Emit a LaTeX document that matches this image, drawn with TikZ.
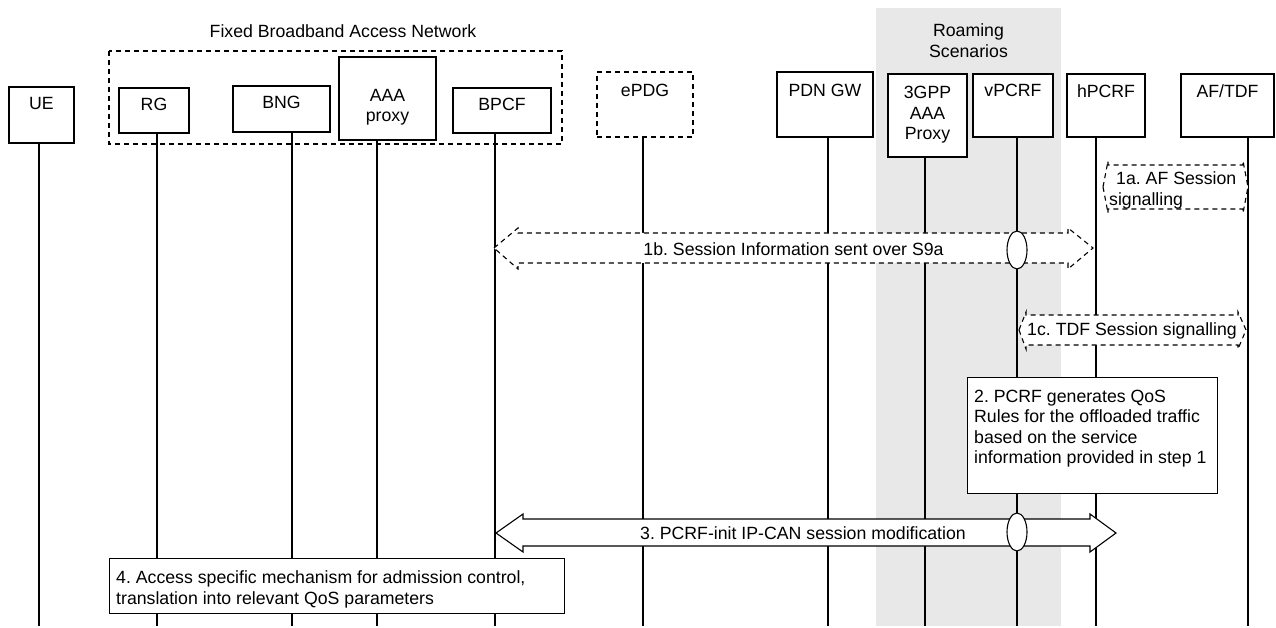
\documentclass[tikz,border=0pt]{standalone}
\usepackage{fontspec}
\setmainfont{Liberation Sans}
\frenchspacing
\usetikzlibrary{shapes.geometric}
\definecolor{roamgray}{RGB}{232,232,232}
\tikzset{
every node/.style={inner sep=0pt, font=\fontsize{17.7}{20.5}\selectfont},
headlbl/.style={anchor=north, align=center, yshift=-11pt},
head/.style={rectangle, draw, fill=white, line width=1.2pt},
dashhead/.style={head, dash pattern=on 5pt off 4pt},
life/.style={line width=1.1pt},
blk/.style={draw, fill=white, line width=1.1pt, line join=miter},
dashblk/.style={blk, dash pattern=on 5pt off 4pt},
cross/.style={ellipse, draw, fill=white, line width=1.1pt, minimum width=20pt, minimum height=38pt},
stepbox/.style={rectangle, draw, fill=white, line width=1.1pt, anchor=north west},
steptxt/.style={anchor=north west, align=left}
}

\begin{document}
\begin{tikzpicture}[x=1pt, y=-1pt]
\useasboundingbox (0,0) rectangle (1276,628);
\fill[roamgray] (876,8) rectangle (1061,626);
\draw[line width=1.1pt, dash pattern=on 5pt off 4pt] (109,51) rectangle (562,144);

\node[anchor=base] (fban) at (343,37.3) {Fixed Broadband Access Network};
\node[align=center] (roam) at (968.5,40.5) {Roaming\\Scenarios};

\node[head, minimum width=65pt, minimum height=56pt, label={[headlbl]north:UE}] (ue) at (41.5,115) {};
\node[head, minimum width=70pt, minimum height=45pt, label={[headlbl]north:RG}] (rg) at (154,110.5) {};
\node[head, minimum width=97pt, minimum height=46pt, label={[headlbl]north:BNG}] (bng) at (281.5,109) {};
\node[head, minimum width=97pt, minimum height=83pt, label={[headlbl, yshift=-21.7pt]north:AAA\\proxy}] (aaa) at (387.5,98.5) {};
\node[head, minimum width=98pt, minimum height=45pt, label={[headlbl]north:BPCF}] (bpcf) at (502,110.5) {};
\node[dashhead, minimum width=96pt, minimum height=65pt, label={[headlbl, yshift=-2pt]north:ePDG}] (epdg) at (645,104.5) {};
\node[head, minimum width=96pt, minimum height=65pt, label={[headlbl, yshift=-2pt]north:PDN GW}] (pgw) at (825,104.5) {};
\node[head, minimum width=79pt, minimum height=83pt, label={[headlbl, yshift=-2pt]north:3GPP\\AAA\\Proxy}] (aaap) at (927.5,115.5) {};
\node[head, minimum width=80pt, minimum height=63pt, label={[headlbl]north:vPCRF}] (vpcrf) at (1013,105.5) {};
\node[head, minimum width=78pt, minimum height=63pt, label={[headlbl]north:hPCRF}] (hpcrf) at (1106,105.5) {};
\node[head, minimum width=93pt, minimum height=63pt, label={[headlbl]north:AF/TDF}] (af) at (1227.5,105.5) {};

\foreach \n/\x in {ue/39, rg/157, bng/292, aaa/377, bpcf/495, epdg/643, pgw/828, aaap/925, vpcrf/1017, hpcrf/1096, af/1248} {
  \coordinate (\n-end) at (\x,626);
  \draw[life] (\n.south -| \n-end) -- (\n-end);
}

\draw[dashblk] (1103,187) -- (1108,161) -- (1108,165) -- (1243,165) -- (1243,161) -- (1248,187) -- (1243,213) -- (1243,209) -- (1108,209) -- (1108,213) -- cycle;
\node[steptxt] (txt1a) at (1109,171.5) {\hspace*{7pt}1a. AF Session\\signalling};

\draw[dashblk] (494,248) -- (518,228) -- (518,233) -- (1068,233) -- (1068,228) -- (1093,248) -- (1068,269) -- (1068,263) -- (518,263) -- (518,269) -- cycle;
\node[cross] (ov1b) at (1017,250) {};
\node[anchor=base] (txt1b) at (793.5,255.3) {1b. Session Information sent over S9a};

\draw[dashblk] (1019,330) -- (1026,312) -- (1026,315) -- (1238,315) -- (1238,312) -- (1246,330) -- (1238,349) -- (1238,345) -- (1026,345) -- (1026,349) -- cycle;
\node[anchor=base] (txt1c) at (1132,335.3) {1c. TDF Session signalling};

\node[stepbox, minimum width=250pt, minimum height=116pt] (step2) at (967,377) {};
\node[steptxt] (step2txt) at ([shift={(7,12.5)}]step2.north west) {2. PCRF generates QoS\\Rules for the offloaded traffic\\based on the service\\information provided in step 1};

\draw[blk] (496,533) -- (523,514) -- (523,519) -- (1090,519) -- (1090,514) -- (1116,533) -- (1090,552) -- (1090,546) -- (523,546) -- (523,552) -- cycle;
\node[cross] (ov3) at (1017,532) {};
\node[anchor=base] (txt3) at (803,539.3) {3. PCRF-init IP-CAN session modification};

\node[stepbox, minimum width=455pt, minimum height=55pt] (step4) at (109,558) {};
\node[steptxt] (step4txt) at ([shift={(7,12.5)}]step4.north west) {4. Access specific mechanism for admission control,\\translation into relevant QoS parameters};
\end{tikzpicture}
\end{document}
